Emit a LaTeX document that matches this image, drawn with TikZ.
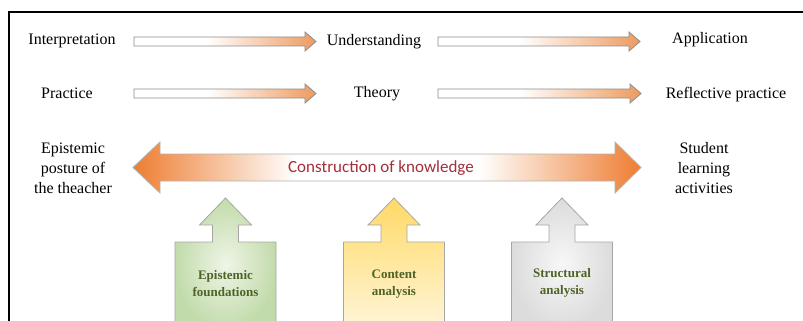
\documentclass[tikz,border=0pt]{standalone}
\usepackage{fontspec}
\setmainfont{Liberation Serif}
\newfontfamily\labelsans{Carlito}

\definecolor{flowOr}{HTML}{EE9A5E}
\definecolor{bigOr}{HTML}{ED7D31}
\definecolor{knowRed}{HTML}{A3303A}
\definecolor{boxText}{HTML}{4F6228}
\definecolor{greenIn}{HTML}{EEF5E6}
\definecolor{greenOut}{HTML}{C2DBAB}
\definecolor{yelTop}{HTML}{FFD966}
\definecolor{yelBot}{HTML}{FFF6DA}
\definecolor{grayIn}{HTML}{F7F7F7}
\definecolor{grayOut}{HTML}{DCDCDC}

% white on the left, warming to orange at the head
\pgfdeclarehorizontalshading{flowshade}{100bp}{color(0bp)=(white); color(25bp)=(white); color(45bp)=(white); color(75bp)=(flowOr); color(100bp)=(flowOr)}
% orange at both heads, white in the middle
\pgfdeclarehorizontalshading{knowshade}{100bp}{color(0bp)=(bigOr); color(25bp)=(bigOr); color(41bp)=(white); color(59bp)=(white); color(75bp)=(bigOr); color(100bp)=(bigOr)}

% thin block arrow: start x, tip x, centre y
\newcommand{\blockflow}[3]{%
  \draw[flowarrow] (#1,#3-4.5) -- (#2-11,#3-4.5) -- (#2-11,#3-9.5) -- (#2,#3)
    -- (#2-11,#3+9.5) -- (#2-11,#3+4.5) -- (#1,#3+4.5) -- cycle;}

% box with an upward arrow on top: centre x, fill options
\newcommand{\sourcebox}[2]{%
  \draw[sourceshape,#2] (#1-50.5,330) -- (#1-50.5,242) -- (#1-13,242) -- (#1-13,225)
    -- (#1-26,225) -- (#1,198) -- (#1+26,225) -- (#1+13,225) -- (#1+13,242)
    -- (#1+50.5,242) -- (#1+50.5,330);}

\tikzset{
  lbl/.style={inner sep=0pt, font=\fontsize{16}{20}\selectfont, text height=11pt, text depth=3.5pt},
  multilbl/.style={inner sep=0pt, font=\fontsize{16}{20}\selectfont, align=center},
  boxlbl/.style={inner sep=0pt, font=\fontsize{13}{17}\selectfont\bfseries, text=boxText, align=center},
  flowarrow/.style={draw=gray!90, line width=0.8pt, shading=flowshade},
  knowarrow/.style={draw=gray!60, line width=0.9pt, shading=knowshade},
  sourceshape/.style={draw=gray!70, line width=0.8pt},
  frame/.style={draw=black, line width=1.4pt}
}

\begin{document}
\begin{tikzpicture}[x=1pt, y=-1pt]
\useasboundingbox (0,0) rectangle (803,321);
\clip (0,0) rectangle (803,321);

% frame
\draw[frame] (9,330) -- (9,12) -- (810,12);

% top rows
\node[lbl] (interp) at (72,41) {Interpretation};
\node[lbl] (underst) at (374,42) {Understanding};
\node[lbl] (appl) at (710,40) {Application};
\node[lbl] (prac) at (67,94.5) {Practice};
\node[lbl] (theory) at (377,94) {Theory};
\node[lbl] (refl) at (726,94.5) {Reflective practice};

\blockflow{134}{316}{41.5}
\blockflow{438}{640}{41.5}
\blockflow{134}{316}{93.5}
\blockflow{438}{641}{93.5}

% construction of knowledge
\node[multilbl] (posture) at (73,168) {Epistemic\\posture of\\the theacher};
\node[multilbl] (student) at (704,168) {Student\\learning\\activities};

\draw[knowarrow] (133,167.5) -- (160,142) -- (160,154) -- (615,154) -- (615,142)
  -- (641,167.5) -- (615,193) -- (615,181) -- (160,181) -- (160,193) -- cycle;
\node[inner sep=0pt, font=\labelsans\fontsize{17}{20}\selectfont, text=knowRed] (constr) at (381,168) {Construction of knowledge};

% sources
\sourcebox{225.5}{inner color=greenIn, outer color=greenOut}
\sourcebox{394}{top color=yelTop, bottom color=yelBot}
\sourcebox{562}{inner color=grayIn, outer color=grayOut}

\node[boxlbl] (found) at (225.5,283.5) {Epistemic\\foundations};
\node[boxlbl] (content) at (394,284) {Content\\analysis};
\node[boxlbl] (struct) at (562,283) {Structural\\analysis};
\end{tikzpicture}
\end{document}
